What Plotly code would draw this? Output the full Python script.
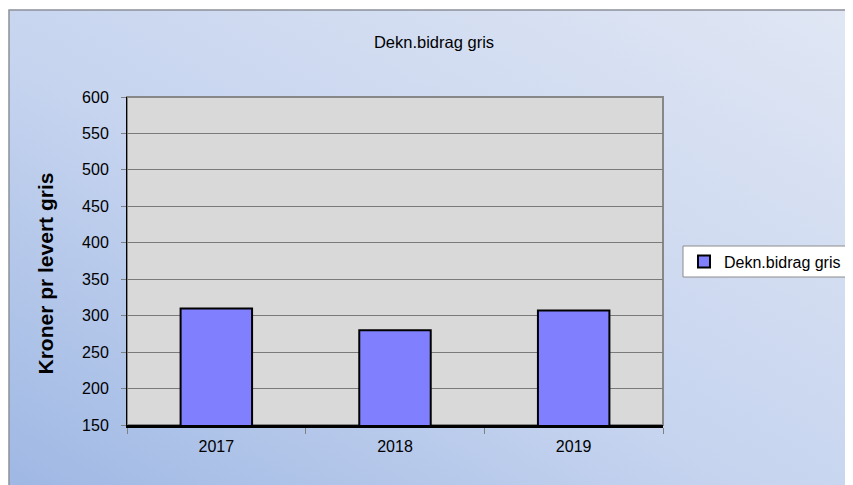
import base64
import plotly.graph_objects as go

# ---- data ----
categories = ["2017", "2018", "2019"]
values = [310, 280, 307]
series_name = "Dekn.bidrag gris"
chart_title = "Dekn.bidrag gris"
y_title = "Kroner pr levert gris"
y_tickvals = [150, 200, 250, 300, 350, 400, 450, 500, 550, 600]

W, H = 853, 485
OFF = 8  # default page body margin; positions below are page pixels
L, R, T, B = 127, 663, 97, 425  # plot area in page px
pw, ph = R - L, B - T


def px_x(x):
    return (x - L) / pw


def px_y(y):
    return (B - y) / ph


svg = f"""<svg xmlns='http://www.w3.org/2000/svg' width='{W}' height='{H}' viewBox='0 0 {W} {H}'>
<defs>
<linearGradient id='g' x1='0' y1='1' x2='1' y2='0'>
<stop offset='0' stop-color='#9cb6e3'/>
<stop offset='0.45' stop-color='#c6d4ef'/>
<stop offset='1' stop-color='#e1e7f4'/>
</linearGradient>
</defs>
<rect x='0' y='0' width='{W}' height='{H}' fill='#ffffff'/>
<rect x='{9 - OFF}' y='{10 - OFF}' width='{W + 20}' height='{H + 20}' fill='url(#g)' stroke='#8c9199' stroke-width='1.5'/>
</svg>"""
src = "data:image/svg+xml;base64," + base64.b64encode(svg.encode()).decode()

fig = go.Figure()
fig.add_trace(go.Bar(
    x=categories, y=values, name=series_name,
    marker=dict(color="#8080ff", line=dict(color="#000000", width=2)),
    showlegend=True,
))

font_family = "Liberation Sans, Arial, sans-serif"

fig.update_layout(
    width=W, height=H,
    autosize=False,
    margin=dict(l=L - OFF, r=W - (R - OFF), t=T - OFF, b=H - (B - OFF), pad=0),
    paper_bgcolor="rgba(0,0,0,0)",
    plot_bgcolor="rgba(0,0,0,0)",
    font=dict(family=font_family, size=16, color="#000000"),
    title=dict(text=chart_title, x=(434 - OFF) / W, y=1 - (42 - OFF) / H,
               xanchor="center", yanchor="middle",
               font=dict(size=16.5, family=font_family, color="#000000")),
    bargap=0.6,
    showlegend=True,
    legend=dict(x=px_x(684), y=px_y(261.5), xanchor="left", yanchor="middle",
                bgcolor="rgba(0,0,0,0)", borderwidth=0,
                font=dict(size=16, family=font_family, color="#000000")),
    images=[dict(source=src, xref="paper", yref="paper",
                 x=px_x(OFF), y=px_y(OFF), sizex=W / pw, sizey=H / ph,
                 xanchor="left", yanchor="top", sizing="stretch", layer="below")],
    shapes=[
        dict(type="rect", xref="paper", yref="paper", x0=0, x1=1, y0=0, y1=1,
             fillcolor="#d9d9d9", line=dict(color="#878787", width=2), layer="below"),
        dict(type="rect", xref="paper", yref="paper", x0=px_x(683), x1=px_x(870),
             y0=px_y(277), y1=px_y(246),
             fillcolor="#ffffff", line=dict(color="#8c8c8c", width=1), layer="below"),
    ],
    annotations=[
        dict(text=f"<b>{y_title}</b>", xref="paper", yref="paper",
             x=px_x(45), y=px_y(273.5), xanchor="center", yanchor="middle",
             textangle=-90, showarrow=False,
             font=dict(size=21, family=font_family, color="#000000")),
    ],
)

fig.update_yaxes(
    range=[150, 600], tickvals=y_tickvals, ticktext=[str(v) for v in y_tickvals],
    showgrid=True, gridcolor="#7a7a7a", gridwidth=1,
    showline=True, linecolor="#000000", linewidth=1,
    ticks="outside", ticklen=5, tickcolor="#808080", tickwidth=1,
    ticklabelstandoff=9,
    tickfont=dict(size=16), zeroline=False,
)
fig.update_xaxes(
    type="category", showgrid=False,
    showline=True, linecolor="#000000", linewidth=2.5,
    ticks="outside", tickson="boundaries", ticklen=6, tickcolor="#808080", tickwidth=1,
    ticklabelstandoff=5,
    tickfont=dict(size=16),
)

fig.write_html("out.html", config={"responsive": False, "displayModeBar": False})
